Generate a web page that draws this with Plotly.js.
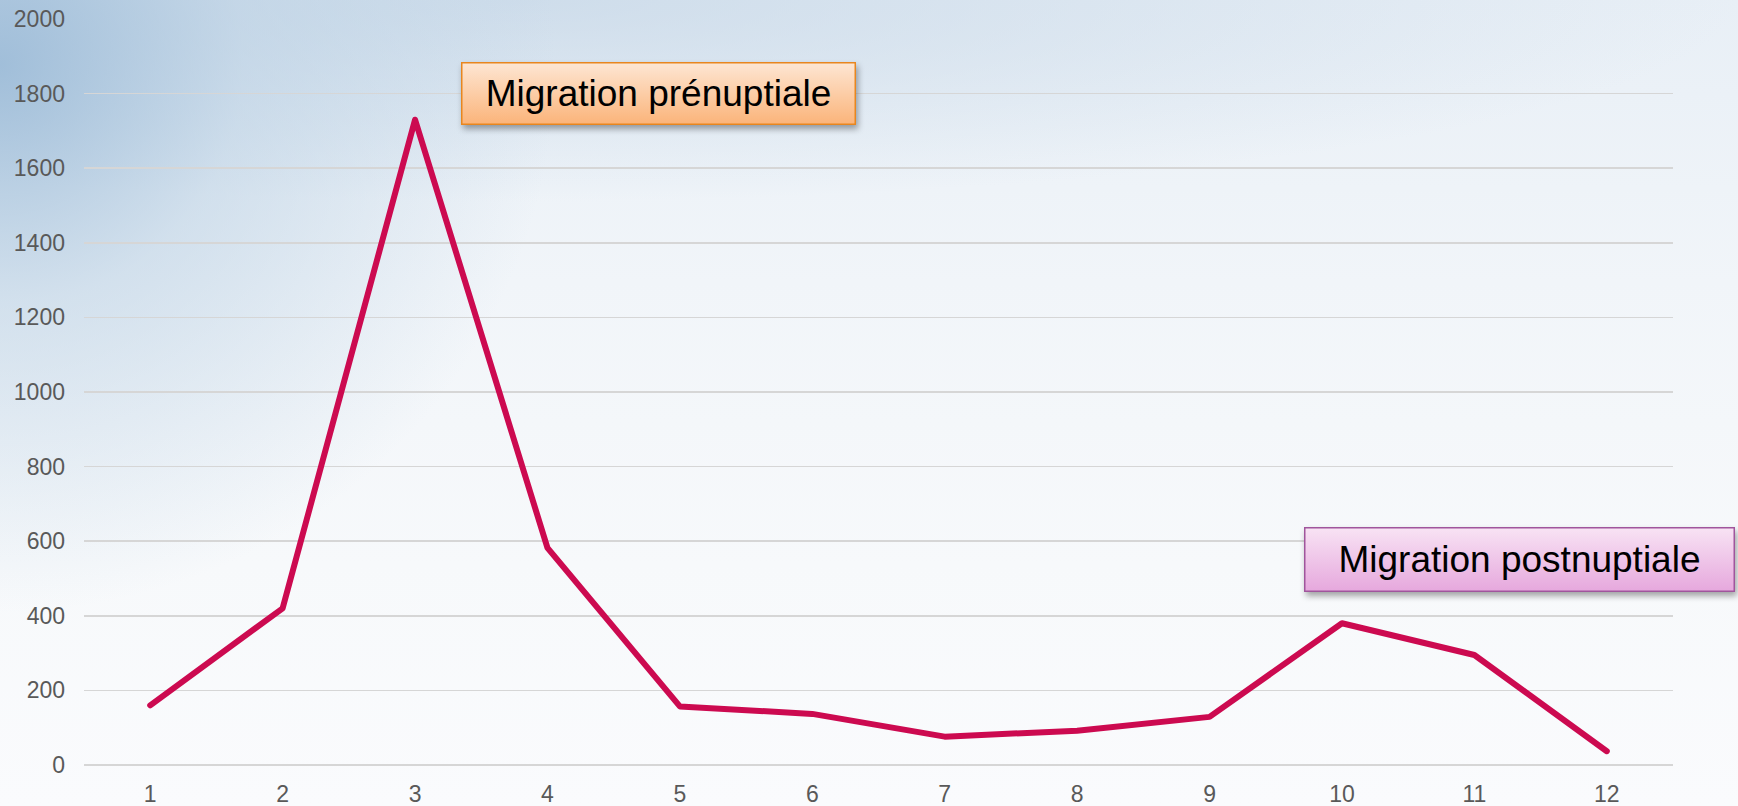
<!DOCTYPE html>
<html>
<head>
<meta charset="utf-8">
<script src="https://cdn.plot.ly/plotly-3.0.1.min.js"></script>
<style>
  html, body { margin: 0; padding: 0; }
  body {
    width: 1738px; height: 806px; overflow: hidden;
    background:
      radial-gradient(ellipse 40% 85% at 0% 8%, rgba(150,183,213,0.85) 0%, rgba(180,204,225,0.5) 35%, rgba(235,241,247,0) 80%),
      radial-gradient(ellipse 70% 25% at 30% 0%, rgba(195,213,230,0.7) 0%, rgba(235,241,247,0) 100%),
      linear-gradient(to bottom, #e8eff6 0%, #f1f5f9 35%, #f7f9fb 70%, #fafbfd 100%);
  }
  #chart { width: 1738px; height: 806px; }
</style>
</head>
<body>
<div id="chart"></div>
<script>
// ---- data ----
const months = ['1', '2', '3', '4', '5', '6', '7', '8', '9', '10', '11', '12'];
const counts = [160, 420, 1730, 582, 157, 137, 76, 92, 129, 380, 295, 37];
const yTicks = [0, 200, 400, 600, 800, 1000, 1200, 1400, 1600, 1800, 2000];
const labels = ['Migration prénuptiale', 'Migration postnuptiale'];

const trace = {
  x: months,
  y: counts,
  type: 'scatter',
  mode: 'lines',
  line: { color: '#CC0A50', width: 6 },
  hoverinfo: 'x+y'
};

const layout = {
  width: 1738,
  height: 806,
  margin: { l: 84, r: 65, t: 19, b: 41 },
  paper_bgcolor: 'rgba(0,0,0,0)',
  plot_bgcolor: 'rgba(0,0,0,0)',
  showlegend: false,
  font: { family: 'Liberation Sans, Arial, sans-serif', color: '#595959', size: 23 },
  xaxis: {
    type: 'category',
    range: [-0.5, months.length - 0.5],
    showgrid: false,
    zeroline: false,
    showline: false,
    ticks: '',
    ticklabelstandoff: 13,
    tickfont: { size: 23, color: '#595959' }
  },
  yaxis: {
    range: [0, 2000],
    tickvals: yTicks,
    ticktext: yTicks.map(String),
    showgrid: true,
    gridcolor: '#d6d6d6',
    gridwidth: 1.6,
    zeroline: true,
    zerolinecolor: '#d6d6d6',
    zerolinewidth: 1.6,
    showline: false,
    ticks: '',
    ticklabelstandoff: 18,
    tickfont: { size: 23, color: '#595959' }
  },
  annotations: [
    {
      xref: 'x', yref: 'y', x: 3.835, y: 1800,
      text: labels[0], showarrow: false,
      font: { family: 'Liberation Sans, Arial, sans-serif', size: 37, color: '#000000' },
      bgcolor: '#FCCB9E', bordercolor: '#E8861E', borderwidth: 1.5, borderpad: 1,
      width: 390, height: 58, xanchor: 'center', yanchor: 'middle'
    },
    {
      xref: 'x', yref: 'y', x: 10.344, y: 552,
      text: labels[1], showarrow: false,
      font: { family: 'Liberation Sans, Arial, sans-serif', size: 37, color: '#000000' },
      bgcolor: '#F0C6EA', bordercolor: '#A0559C', borderwidth: 1.5, borderpad: 1,
      width: 426, height: 60, xanchor: 'center', yanchor: 'middle'
    }
  ]
};

Plotly.newPlot('chart', [trace], layout, { displayModeBar: false, staticPlot: true }).then(function (gd) {
  const svg = gd.querySelector('svg.main-svg');
  const NS = 'http://www.w3.org/2000/svg';
  const defs = document.createElementNS(NS, 'defs');
  function grad(id, c1, c2) {
    const g = document.createElementNS(NS, 'linearGradient');
    g.setAttribute('id', id);
    g.setAttribute('x1', '0'); g.setAttribute('y1', '0');
    g.setAttribute('x2', '0'); g.setAttribute('y2', '1');
    [[0, c1], [1, c2]].forEach(function (s) {
      const st = document.createElementNS(NS, 'stop');
      st.setAttribute('offset', s[0]);
      st.setAttribute('stop-color', s[1]);
      g.appendChild(st);
    });
    defs.appendChild(g);
  }
  grad('gradPre', '#FDE6D3', '#FBB47A');
  grad('gradPost', '#F8E3F4', '#E6A8DD');
  svg.insertBefore(defs, svg.firstChild);
  const rects = gd.querySelectorAll('.annotation rect.bg');
  const ids = ['gradPre', 'gradPost'];
  rects.forEach(function (r, i) {
    r.style.fill = 'url(#' + ids[i] + ')';
    r.style.filter = 'drop-shadow(2px 4px 3px rgba(0,0,0,0.35))';
  });
  gd.querySelectorAll('.scatterlayer path.js-line').forEach(function (p) {
    p.style.strokeLinejoin = 'round';
    p.style.strokeLinecap = 'round';
  });
});
</script>
</body>
</html>
